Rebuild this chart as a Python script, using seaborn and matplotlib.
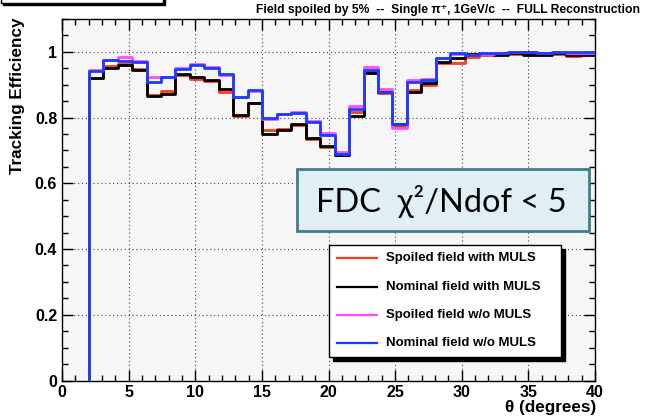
import numpy as np
import pandas as pd
import matplotlib
matplotlib.use("Agg")
import matplotlib.pyplot as plt
from matplotlib.patches import Rectangle
from matplotlib.lines import Line2D
from matplotlib.ticker import MultipleLocator, FixedLocator, FixedFormatter
import seaborn as sns

# ---- data: tracking efficiency per theta bin (35 bins from 2 to 40 degrees) ----
bin_lo = 2.0
bin_hi = 40.0
n_bins = 35

spoiled_muls = [0.919, 0.956, 0.962, 0.948, 0.869, 0.882, 0.930, 0.918, 0.912, 0.878,
                0.806, 0.843, 0.762, 0.765, 0.778, 0.736, 0.711, 0.685, 0.818, 0.940,
                0.874, 0.773, 0.884, 0.900, 0.966, 0.966, 0.984, 0.991, 0.993, 0.994,
                0.993, 0.993, 0.994, 0.986, 0.992]
nominal_muls = [0.921, 0.952, 0.960, 0.945, 0.865, 0.873, 0.933, 0.925, 0.915, 0.886,
                0.808, 0.845, 0.749, 0.762, 0.781, 0.739, 0.714, 0.687, 0.805, 0.937,
                0.877, 0.781, 0.879, 0.905, 0.970, 0.981, 0.992, 0.994, 0.989, 0.997,
                0.991, 0.991, 0.998, 0.991, 0.991]
spoiled_nomuls = [0.946, 0.974, 0.983, 0.973, 0.922, 0.924, 0.951, 0.963, 0.955, 0.930,
                  0.862, 0.882, 0.797, 0.812, 0.818, 0.789, 0.752, 0.694, 0.834, 0.955,
                  0.886, 0.769, 0.913, 0.918, 0.980, 0.992, 0.990, 0.995, 0.997, 0.999,
                  0.999, 0.998, 0.999, 0.998, 0.998]
nominal_nomuls = [0.942, 0.976, 0.973, 0.970, 0.907, 0.922, 0.948, 0.960, 0.952, 0.932,
                  0.864, 0.883, 0.800, 0.811, 0.813, 0.786, 0.748, 0.689, 0.826, 0.945,
                  0.877, 0.779, 0.909, 0.915, 0.982, 0.996, 0.990, 0.996, 0.998, 1.000,
                  1.000, 0.998, 1.000, 1.000, 1.000]

series_names = ["Spoiled field with MULS", "Nominal field with MULS",
                "Spoiled field w/o MULS", "Nominal field w/o MULS"]
series_values = [spoiled_muls, nominal_muls, spoiled_nomuls, nominal_nomuls]
series_colors = ["#ff3a1a", "#000000", "#ff4cff", "#1a3cff"]

x_ticks = [0, 5, 10, 15, 20, 25, 30, 35, 40]
y_ticks = [0, 0.2, 0.4, 0.6, 0.8, 1.0]
y_tick_labels = ["0", "0.2", "0.4", "0.6", "0.8", "1"]

title_text = "Field spoiled by 5%  --  Single \u03c0\u207a, 1GeV/c  --  FULL Reconstruction"
cut_text = "FDC  \u03c7\u00b2/Ndof < 5"

# ---- build step-histogram table ----
edges = np.linspace(bin_lo, bin_hi, n_bins + 1)
rows = []
for name, vals in zip(series_names, series_values):
    xs = [edges[0]] + list(edges)
    ys = [0.0] + list(vals) + [vals[-1]]
    for x, y in zip(xs, ys):
        rows.append({"theta": x, "eff": y, "series": name})
df = pd.DataFrame(rows)

W, H = 647, 419
fx = lambda p: p / W
fy = lambda p: 1 - p / H

plt.rcParams["font.family"] = ["Liberation Sans", "DejaVu Sans"]
plt.rcParams["font.weight"] = "bold"

fig = plt.figure(figsize=(W / 100, H / 100), dpi=100)
fig.patch.set_facecolor("white")
ax = fig.add_axes([fx(62), fy(380.5), (595 - 62) / W, (380.5 - 19) / H])
ax.set_facecolor("#f6f6f6")

sns.lineplot(data=df, x="theta", y="eff", hue="series", hue_order=series_names,
             palette=dict(zip(series_names, series_colors)), estimator=None,
             sort=False, drawstyle="steps-post", legend=False, linewidth=2.0,
             ax=ax, zorder=3)

ax.set_xlim(0, 40)
ax.set_ylim(0, 1.1)
ax.set_xlabel("")
ax.set_ylabel("")

ax.xaxis.set_major_locator(FixedLocator(x_ticks))
ax.xaxis.set_minor_locator(MultipleLocator(1))
ax.yaxis.set_major_locator(FixedLocator(y_ticks))
ax.yaxis.set_major_formatter(FixedFormatter(y_tick_labels))
ax.yaxis.set_minor_locator(MultipleLocator(0.05))
ax.tick_params(which="both", direction="in", top=True, right=True, color="black", width=1)
ax.tick_params(which="major", length=8, labelsize=11.5, pad=3.5)
ax.tick_params(which="minor", length=4)
for lab in ax.get_xticklabels() + ax.get_yticklabels():
    lab.set_fontweight("bold")
for s in ax.spines.values():
    s.set_color("black")
    s.set_linewidth(1.0)

# dotted grid at major ticks
for xv in x_ticks[1:-1]:
    ax.axvline(xv, color="#444444", lw=0.8, ls=(0, (1, 2.5)), zorder=1)
for yv in y_ticks[1:]:
    ax.axhline(yv, color="#444444", lw=0.8, ls=(0, (1, 2.5)), zorder=1)

# axis titles
fig.text(fx(18), fy(18), "Tracking Efficiency", rotation=90, ha="center", va="top",
         fontsize=12.3, fontweight="bold")
fig.text(fx(596), fy(407), "\u03b8 (degrees)", ha="right", va="center",
         fontsize=12.3, fontweight="bold")
fig.text(fx(640), fy(10), title_text, ha="right", va="center", fontsize=8.7,
         fontweight="bold")

# title box peeking at top-left
fig.patches.append(Rectangle((fx(3), fy(5)), fx(165) - fx(3), fy(-20) - fy(5),
                             transform=fig.transFigure, facecolor="black",
                             edgecolor="black", lw=1))
fig.patches.append(Rectangle((fx(1), fy(3)), fx(163) - fx(1), fy(-20) - fy(3),
                             transform=fig.transFigure, facecolor="white",
                             edgecolor="black", lw=1))

# selection cut box
fig.patches.append(Rectangle((fx(297), fy(231.5)), fx(589) - fx(297), fy(168.5) - fy(231.5),
                             transform=fig.transFigure, facecolor="#dfeff4",
                             edgecolor="#3f7d8c", lw=2, zorder=5))
fig.text(fx(441), fy(201), cut_text, ha="center", va="center", fontsize=23.5,
         fontweight="normal", family=["Lato", "DejaVu Sans"], zorder=6)

# legend box with shadow
lx0, ly0, lx1, ly1 = 329, 245, 561, 357
fig.patches.append(Rectangle((fx(lx0 + 4), fy(ly1 + 4)), fx(lx1) - fx(lx0), fy(ly0) - fy(ly1),
                             transform=fig.transFigure, facecolor="black",
                             edgecolor="black", lw=1, zorder=5))
fig.patches.append(Rectangle((fx(lx0), fy(ly1)), fx(lx1) - fx(lx0), fy(ly0) - fy(ly1),
                             transform=fig.transFigure, facecolor="white",
                             edgecolor="black", lw=1, zorder=6))
row_y = [258, 286.5, 314.5, 342.5]
for name, col, yy in zip(series_names, series_colors, row_y):
    fig.lines.append(Line2D([fx(337), fx(377)], [fy(yy), fy(yy)], color=col, lw=1.6,
                            transform=fig.transFigure, zorder=7))
    fig.text(fx(386), fy(yy), name, ha="left", va="center", fontsize=9.5,
             fontweight="bold", zorder=7)

fig.savefig("out.png", dpi=100)
